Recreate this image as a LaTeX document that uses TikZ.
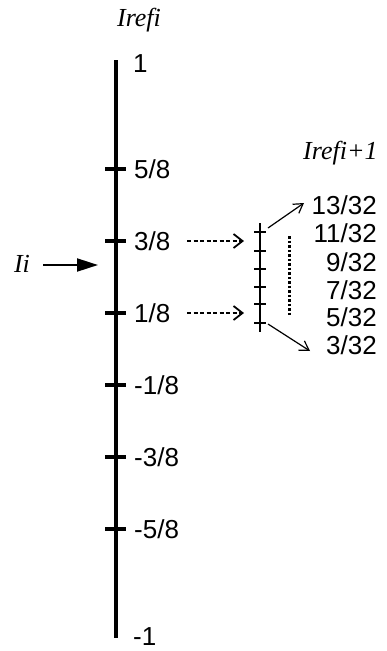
\documentclass[tikz,border=0pt]{standalone}
\usepackage{fontspec}
\setmainfont{Liberation Serif}
\newfontfamily\numfont{Liberation Sans}
\usetikzlibrary{arrows.meta}
\tikzset{
  num/.style={font=\numfont\fontsize{26}{30}\selectfont, inner sep=0pt, anchor=west},
  numr/.style={font=\numfont\fontsize{26}{30}\selectfont, inner sep=0pt, anchor=east},
  ital/.style={font=\itshape\fontsize{26}{30}\selectfont, inner sep=0pt},
  mainaxis/.style={line width=3.8pt},
  maintick/.style={line width=3.5pt},
  smallaxis/.style={line width=2pt},
  smalltick/.style={line width=1.6pt},
  dasharrow/.style={line width=2.6pt, dash pattern=on 4pt off 2.5pt, -{Straight Barb[length=9pt,width=14pt,line width=1.8pt]}},
  thinarrow/.style={line width=1.2pt, -{Straight Barb[length=9pt,width=11pt]}},
  dotline/.style={line width=3pt, dash pattern=on 2.5pt off 2pt},
}
\begin{document}
\begin{tikzpicture}[x=1pt,y=-1pt]
\useasboundingbox (0,0) rectangle (387,651);
% main axis
\coordinate (top) at (116,60);
\coordinate (bot) at (116,638);
\draw[mainaxis] (top) -- (bot);
\node[ital] (iref) at (139,20) {Irefi};
\node[num] (l1) at (133,64) {1};
\node[num] (lm1) at (133,637) {-1};
\foreach \y/\t/\n in {169/5\slash 8/a,241/3\slash 8/b,313/1\slash 8/c,385/-1\slash 8/d,457/-3\slash 8/e,529/-5\slash 8/f}{
  \coordinate (t\n) at (116,\y);
  \draw[maintick] ([xshift=-11pt]t\n) -- ([xshift=10pt]t\n);
  \node[num] (lab\n) at (134,\y) {\t};
}
% Ii arrow
\node[ital] (ii) at (22,264) {Ii};
\coordinate (iitip) at (98,265);
\draw[line width=2pt,-{Triangle[length=21pt,width=13pt]}] (43,265) -- (iitip);
% small axis
\coordinate (stop) at (260,223);
\coordinate (sbot) at (260,332);
\draw[smallaxis] (stop) -- (sbot);
\foreach \y/\n in {232/1,251/2,269/3,287/4,304/5,323/6}{
  \coordinate (s\n) at (260,\y);
  \draw[smalltick] ([xshift=-6pt]s\n) -- ([xshift=6pt]s\n);
}
% dashed arrows
\coordinate (da1) at (187,241);
\coordinate (db1) at (244,241);
\coordinate (da2) at (187,313);
\coordinate (db2) at (244,313);
\draw[dasharrow] (da1) -- (db1);
\draw[dasharrow] (da2) -- (db2);
% dotted vertical line
\coordinate (dt) at (289,236);
\coordinate (dbm) at (289,315);
\draw[dotline] (dt) -- (dbm);
% right labels
\node[ital, anchor=west] (iref1) at (303,153) {Irefi+1};
\node[numr] (r13) at (377,205) {13/32};
\node[numr] (r11) at (377,233) {11/32};
\node[numr] (r9) at (377,262) {9/32};
\node[numr] (r7) at (377,290) {7/32};
\node[numr] (r5) at (377,317) {5/32};
\node[numr] (r3) at (377,345) {3/32};
% thin arrows
\coordinate (ua) at (268,228);
\coordinate (ub) at (304,203);
\coordinate (la) at (268,324);
\coordinate (lb) at (310,351);
\draw[thinarrow] (ua) -- (ub);
\draw[thinarrow] (la) -- (lb);
\end{tikzpicture}
\end{document}
